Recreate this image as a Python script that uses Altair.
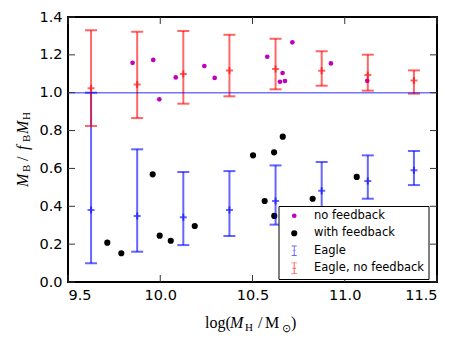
import altair as alt
import pandas as pd

# ---- data ----
eagle_x = [9.625, 9.875, 10.125, 10.375, 10.625, 10.875, 11.125, 11.375]

# Eagle (with feedback) - blue
fb_y = [0.380, 0.349, 0.342, 0.380, 0.428, 0.482, 0.534, 0.590]
fb_lo = [0.099, 0.160, 0.195, 0.243, 0.303, 0.330, 0.440, 0.512]
fb_hi = [1.000, 0.701, 0.581, 0.586, 0.616, 0.634, 0.669, 0.692]

# Eagle, no feedback - red
nf_y = [1.023, 1.044, 1.099, 1.118, 1.125, 1.116, 1.094, 1.065]
nf_lo = [0.824, 0.866, 0.942, 0.981, 1.018, 1.037, 1.011, 0.995]
nf_hi = [1.330, 1.322, 1.326, 1.306, 1.285, 1.219, 1.201, 1.118]

# no feedback points - magenta
nofb_x = [9.850, 9.962, 9.995, 10.084, 10.239, 10.295, 10.580, 10.716, 10.663, 10.649, 10.676, 10.925, 11.122]
nofb_y = [1.158, 1.173, 0.965, 1.081, 1.141, 1.078, 1.190, 1.266, 1.104, 1.058, 1.062, 1.155, 1.063]

# with feedback points - black
wfb_x = [9.713, 9.789, 9.959, 9.997, 10.057, 10.187, 10.503, 10.617, 10.664, 10.566, 10.618, 10.826, 11.065]
wfb_y = [0.208, 0.152, 0.569, 0.245, 0.218, 0.296, 0.669, 0.685, 0.768, 0.428, 0.349, 0.440, 0.555]

series_names = ["no feedback", "with feedback", "Eagle", "Eagle, no feedback"]
ref_line = [1.0]
x_ticks = [9.5, 10.0, 10.5, 11.0, 11.5]
y_ticks = [0.0, 0.2, 0.4, 0.6, 0.8, 1.0, 1.2, 1.4]

W, H = 369, 265
X_DOM = [9.5, 11.5]
Y_DOM = [0.0, 1.4]

xs = alt.Scale(domain=X_DOM, nice=False, zero=False)
ys = alt.Scale(domain=Y_DOM, nice=False, zero=False)

X_AX = alt.Axis(values=x_ticks, format=".1f", title=None, labelOverlap=False)
Y_AX = alt.Axis(values=y_ticks, format=".1f", title=None, labelOverlap=False)


def X(f):
    return alt.X(f, scale=xs, axis=X_AX)


def Y(f):
    return alt.Y(f, scale=ys, axis=Y_AX)


EB_PATH = ("M-0.12,-1.4L0.12,-1.4L0.12,1.4L-0.12,1.4Z "
           "M-0.68,-1.4L0.68,-1.4L0.68,-1.18L-0.68,-1.18Z "
           "M-0.68,1.18L0.68,1.18L0.68,1.4L-0.68,1.4Z "
           "M-0.45,-0.1L0.45,-0.1L0.45,0.1L-0.45,0.1Z")

pts = pd.DataFrame({
    "x": nofb_x + wfb_x,
    "y": nofb_y + wfb_y,
    "series": ["no feedback"] * len(nofb_x) + ["with feedback"] * len(wfb_x),
})

points = alt.Chart(pts).mark_point(filled=True, opacity=1, strokeWidth=0).encode(
    x=X("x:Q"),
    y=Y("y:Q"),
    color=alt.Color("series:N", scale=alt.Scale(domain=series_names,
                    range=["#bf00bf", "#000000", "#6666ff", "#ff6666"]),
                    legend=alt.Legend(title=None, orient="none", legendX=210.5, legendY=189,
                                      fillColor="white", strokeColor="black",
                                      padding=4, symbolOffset=6, labelOffset=14, rowPadding=4.5,
                                      labelFont="DejaVu Sans", labelFontSize=11.5,
                                      labelColor="black", symbolStrokeWidth=0)),
    shape=alt.Shape("series:N", scale=alt.Scale(domain=series_names,
                    range=["circle", "circle", EB_PATH, EB_PATH])),
    size=alt.Size("series:N", scale=alt.Scale(domain=series_names, range=[22, 70, 150, 150])),
)


def errorbars(xv, yv, lo, hi, color):
    df = pd.DataFrame({"x": xv, "y": yv, "lo": lo, "hi": hi})
    base = alt.Chart(df)
    rule = base.mark_rule(color=color, opacity=0.6, strokeWidth=2).encode(
        x=X("x:Q"), y=Y("lo:Q"), y2="hi:Q")
    cap_lo = base.mark_point(shape="M-1,0L1,0", size=144, color=color, opacity=0.6,
                             strokeWidth=2, filled=False).encode(x=X("x:Q"), y=Y("lo:Q"))
    cap_hi = base.mark_point(shape="M-1,0L1,0", size=144, color=color, opacity=0.6,
                             strokeWidth=2, filled=False).encode(x=X("x:Q"), y=Y("hi:Q"))
    cross = base.mark_point(shape="M-1,0L1,0M0,-1L0,1", size=49, color=color, opacity=0.6,
                            strokeWidth=2, filled=False).encode(x=X("x:Q"), y=Y("y:Q"))
    return [rule, cap_lo, cap_hi, cross]


hline = alt.Chart(pd.DataFrame({"v": ref_line})).mark_rule(
    color="#0000ff", opacity=0.55, strokeWidth=1.5).encode(y=Y("v:Q"))

# inward ticks
xt = pd.DataFrame({"v": x_ticks})
yt = pd.DataFrame({"v": y_ticks})
TL = 7
tick_col = "#333333"
tx_b = alt.Chart(xt).mark_rule(color=tick_col, strokeWidth=1).encode(
    x=X("v:Q"), y=alt.value(H), y2=alt.value(H - TL))
tx_t = alt.Chart(xt).mark_rule(color=tick_col, strokeWidth=1).encode(
    x=X("v:Q"), y=alt.value(0), y2=alt.value(TL))
ty_l = alt.Chart(yt).mark_rule(color=tick_col, strokeWidth=1).encode(
    y=Y("v:Q"), x=alt.value(0), x2=alt.value(TL))
ty_r = alt.Chart(yt).mark_rule(color=tick_col, strokeWidth=1).encode(
    y=Y("v:Q"), x=alt.value(W), x2=alt.value(W - TL))

# axis titles composed of text pieces (text, x, y, size, italic, angle)
MF = 16
SF = 11
title_pieces = [
    # x title
    ("log(", 137, 311, MF, False, 0),
    ("M", 162, 311, MF, True, 0),
    ("H", 177, 314, SF, False, 0),
    ("/", 190, 311, MF, False, 0),
    ("M", 197, 311, MF, False, 0),
    ("⊙", 214, 315, SF, False, 0),
    (")", 223, 311, MF, False, 0),
    # y title (rotated)
    ("M", -40.5, 170, MF, True, 270),
    ("B", -38, 155, SF, False, 270),
    ("/", -40.5, 144, MF, False, 270),
    ("f", -40.5, 133, MF, True, 270),
    ("B", -38, 125, SF, False, 270),
    ("M", -40.5, 117, MF, True, 270),
    ("H", -38, 103, SF, False, 270),
]

title_layers = []
for t, px, py, fs, it, ang in title_pieces:
    title_layers.append(
        alt.Chart(pd.DataFrame({"t": [t]})).mark_text(
            font="Liberation Serif", fontSize=fs, fontStyle="italic" if it else "normal",
            align="left", baseline="alphabetic", angle=ang, color="black").encode(
            x=alt.value(px), y=alt.value(py), text="t:N")
    )

layers = ([points] + errorbars(eagle_x, fb_y, fb_lo, fb_hi, "#0000ff")
          + errorbars(eagle_x, nf_y, nf_lo, nf_hi, "#ff0000")
          + [hline, tx_b, tx_t, ty_l, ty_r] + title_layers)

chart = alt.layer(*layers).properties(
    width=W, height=H,
    autosize=alt.AutoSizeParams(type="none"),
    padding={"left": 60, "top": 9, "right": 15, "bottom": 55},
).configure_view(
    stroke="black", strokeWidth=2
).configure_axis(
    grid=False, domain=False, ticks=False, labelOverlap=False,
    labelFont="DejaVu Sans", labelFontSize=14.5, labelColor="black", labelPadding=6,
)

chart.save("out.html", embed_options={"renderer": "svg", "actions": False})
